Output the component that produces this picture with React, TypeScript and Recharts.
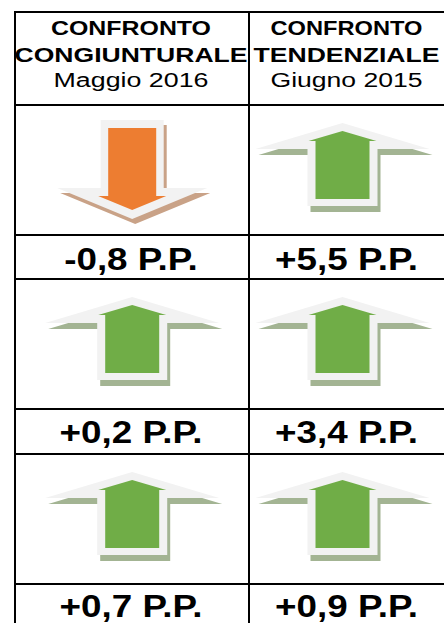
import { BarChart, Bar, XAxis, YAxis } from 'recharts'

const comparisons = ['CONGIUNTURALE', 'TENDENZIALE']
const periods = ['Maggio 2016', 'Giugno 2015']
const congiunturale = [-0.8, 0.2, 0.7]
const tendenziale = [5.5, 3.4, 0.9]

const FONT = '"Liberation Sans", Arial, Helvetica, sans-serif'
const LIGHT = '#f2f2f2'
const UP = { fill: '#70ad47', shadow: '#a3b493' }
const DOWN = { fill: '#ed7d31', shadow: '#c9a287' }

// table layout
const colLeft = [16, 250]
const colWidth = [232, 195]
const colPadRight = [0, 10]
const colCenter = [131, 346.5]
const arrowRowTop = [106, 280, 455]
const valueBaseline = [270, 443, 617]
const hLines = [11, 104, 234, 278, 408, 453, 583]
const vLines = [14, 248]
const titleWidths = [[160, 233, 155], [152, 186, 152]]

function fmt(v: number) {
  return `${v < 0 ? '-' : '+'}${Math.abs(v).toFixed(1).replace('.', ',')} P.P.`
}

function pts(list: number[][], dx = 0, dy = 0) {
  return list.map(([x, y]) => `${x + dx},${y + dy}`).join(' ')
}

function ArrowShape(props: any) {
  const { x, y, width, height, background, payload } = props
  const v = payload?.value ?? props.value
  const cx = x + width / 2
  const cy = background ? background.y + background.height / 2 : y + height

  if (v < 0) {
    const t = cy - 50
    const outer = [
      [cx - 31.5, t], [cx + 31.5, t], [cx + 31.5, t + 68], [cx + 75, t + 68],
      [cx, t + 99], [cx - 75, t + 68], [cx - 31.5, t + 68],
    ]
    const inner = [
      [cx - 24, t + 8], [cx + 24, t + 8], [cx + 24, t + 76], [cx + 34, t + 76],
      [cx, t + 90], [cx - 34, t + 76], [cx - 24, t + 76],
    ]
    return (
      <g>
        <polygon points={pts(outer, 3, 5)} fill={DOWN.shadow} />
        <polygon points={pts(outer)} fill={LIGHT} />
        <polygon points={pts(inner)} fill={DOWN.fill} />
      </g>
    )
  }

  const t = cy - 47
  const outer = [
    [cx, t], [cx + 87, t + 26], [cx + 35, t + 26], [cx + 35, t + 83],
    [cx - 35, t + 83], [cx - 35, t + 26], [cx - 87, t + 26],
  ]
  const inner = [
    [cx, t + 8], [cx + 34, t + 18], [cx + 27, t + 18], [cx + 27, t + 76],
    [cx - 27, t + 76], [cx - 27, t + 18], [cx - 34, t + 18],
  ]
  return (
    <g>
      <polygon points={pts(outer, 3, 6)} fill={UP.shadow} />
      <polygon points={pts(outer)} fill={LIGHT} />
      <polygon points={pts(inner)} fill={UP.fill} />
    </g>
  )
}

function ArrowCell({ name, value, col, row }: { name: string; value: number; col: number; row: number }) {
  const w = colWidth[col]
  return (
    <div style={{ position: 'absolute', left: colLeft[col], top: arrowRowTop[row], width: w, height: 128 }}>
      <BarChart
        width={w}
        height={128}
        data={[{ name, value }]}
        margin={{ top: 0, right: colPadRight[col], bottom: 0, left: 0 }}
      >
        <XAxis dataKey="name" hide />
        <YAxis hide domain={[-6, 6]} />
        <Bar dataKey="value" shape={ArrowShape} isAnimationActive={false} />
      </BarChart>
    </div>
  )
}

export default function App() {
  const series = [congiunturale, tendenziale]
  return (
    <div
      style={{
        position: 'absolute', left: 0, top: 0, width: 444, height: 623,
        overflow: 'hidden', background: '#fff', fontFamily: FONT,
      }}
    >
      <svg width={444} height={623} style={{ position: 'absolute', left: 0, top: 0 }}>
        {hLines.map((y) => (
          <rect key={'h' + y} x={14} y={y} width={440} height={2} fill="#000" />
        ))}
        {vLines.map((x) => (
          <rect key={'v' + x} x={x} y={11} width={2} height={620} fill="#000" />
        ))}
        {comparisons.map((c, i) => (
          <g key={c} fontFamily={FONT} fill="#000" textAnchor="middle">
            <text x={colCenter[i]} y={35} fontSize={21} fontWeight="bold" textLength={titleWidths[i][0]} lengthAdjust="spacingAndGlyphs">
              CONFRONTO
            </text>
            <text x={colCenter[i]} y={62} fontSize={21} fontWeight="bold" textLength={titleWidths[i][1]} lengthAdjust="spacingAndGlyphs">
              {c}
            </text>
            <text x={colCenter[i]} y={87} fontSize={20} textLength={titleWidths[i][2]} lengthAdjust="spacingAndGlyphs">
              {periods[i]}
            </text>
          </g>
        ))}
        {series.map((vals, i) =>
          vals.map((v, r) => (
            <text
              key={`${i}-${r}`}
              transform={`translate(${colCenter[i]} ${valueBaseline[r]}) scale(1.15 1)`}
              textAnchor="middle"
              fontFamily={FONT}
              fontSize={32}
              fontWeight="bold"
              fill="#000"
            >
              {fmt(v)}
            </text>
          ))
        )}
      </svg>
      {series.map((vals, i) =>
        vals.map((v, r) => (
          <ArrowCell key={`a${i}-${r}`} name={comparisons[i]} value={v} col={i} row={r} />
        ))
      )}
    </div>
  )
}
